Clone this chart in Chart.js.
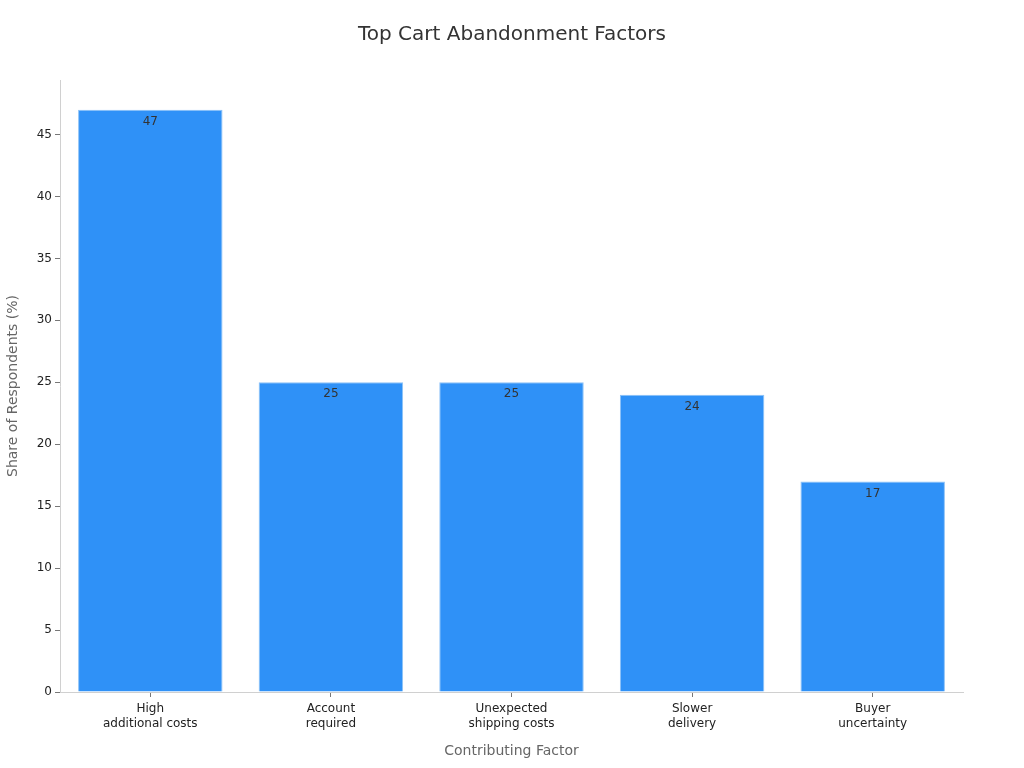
<!DOCTYPE html>
<html>
<head>
<meta charset="utf-8">
<script src="https://cdn.jsdelivr.net/npm/chart.js@4/dist/chart.umd.min.js"></script>
<style>
  html, body { margin: 0; padding: 0; background: #fff; }
  #wrap { width: 1024px; height: 768px; }
</style>
</head>
<body>
<div id="wrap"><canvas id="chart"></canvas></div>
<script>
// 데이터
const categories = [
  ['High', 'additional costs'],
  ['Account', 'required'],
  ['Unexpected', 'shipping costs'],
  ['Slower', 'delivery'],
  ['Buyer', 'uncertainty']
];
const shares = [47, 25, 25, 24, 17];
const chartTitle = 'Top Cart Abandonment Factors';

const FONT = "'DejaVu Sans', sans-serif";

// 막대 위쪽 안쪽에 값 표시
const valueLabelPlugin = {
  id: 'valueLabels',
  afterDatasetsDraw(chart) {
    const ctx = chart.ctx;
    const meta = chart.getDatasetMeta(0);
    ctx.save();
    ctx.font = '12px ' + FONT;
    ctx.fillStyle = '#333333';
    ctx.textAlign = 'center';
    ctx.textBaseline = 'top';
    meta.data.forEach((bar, i) => {
      ctx.fillText(String(shares[i]), bar.x, bar.y + 6);
    });
    ctx.restore();
  }
};

// 캔버스 전체 폭 기준 가운데 제목
const canvasTitlePlugin = {
  id: 'canvasTitle',
  afterDraw(chart) {
    const ctx = chart.ctx;
    ctx.save();
    ctx.font = '20px ' + FONT;
    ctx.fillStyle = '#333333';
    ctx.textAlign = 'center';
    ctx.textBaseline = 'middle';
    ctx.fillText(chartTitle, chart.width / 2, 35);
    ctx.restore();
  }
};

new Chart(document.getElementById('chart'), {
  type: 'bar',
  data: {
    labels: categories,
    datasets: [{
      data: shares,
      backgroundColor: '#2f91f7',
      borderColor: '#8cc2f7',
      borderWidth: 1,
      categoryPercentage: 1,
      barPercentage: 0.8
    }]
  },
  plugins: [valueLabelPlugin, canvasTitlePlugin],
  options: {
    responsive: true,
    maintainAspectRatio: false,
    animation: false,
    layout: { padding: { left: 0, right: 61, top: 80, bottom: 0 } },
    plugins: {
      legend: { display: false },
      tooltip: { enabled: false },
      title: { display: false }
    },
    scales: {
      x: {
        afterFit(scale) { scale.height = 76; },
        border: { display: true, color: '#d0d0d0' },
        grid: { display: true, drawOnChartArea: false, offset: false, tickLength: 5, color: '#777777' },
        ticks: { color: '#222222', font: { family: FONT, size: 12 }, padding: 5 },
        title: {
          display: true,
          text: 'Contributing Factor',
          color: '#666666',
          font: { family: FONT, size: 14 },
          padding: { top: 4, bottom: 8 }
        }
      },
      y: {
        min: 0,
        max: 49.4,
        afterFit(scale) { scale.width = 60; },
        border: { display: true, color: '#d0d0d0' },
        grid: { display: true, drawOnChartArea: false, tickLength: 5, color: '#777777' },
        ticks: {
          stepSize: 5,
          color: '#222222',
          font: { family: FONT, size: 12 },
          padding: 3,
          callback: (v) => (v % 5 === 0 ? v : null)
        },
        title: {
          display: true,
          text: 'Share of Respondents (%)',
          color: '#666666',
          font: { family: FONT, size: 14 },
          padding: { top: 5, bottom: 4 }
        }
      }
    }
  }
});
</script>
</body>
</html>
